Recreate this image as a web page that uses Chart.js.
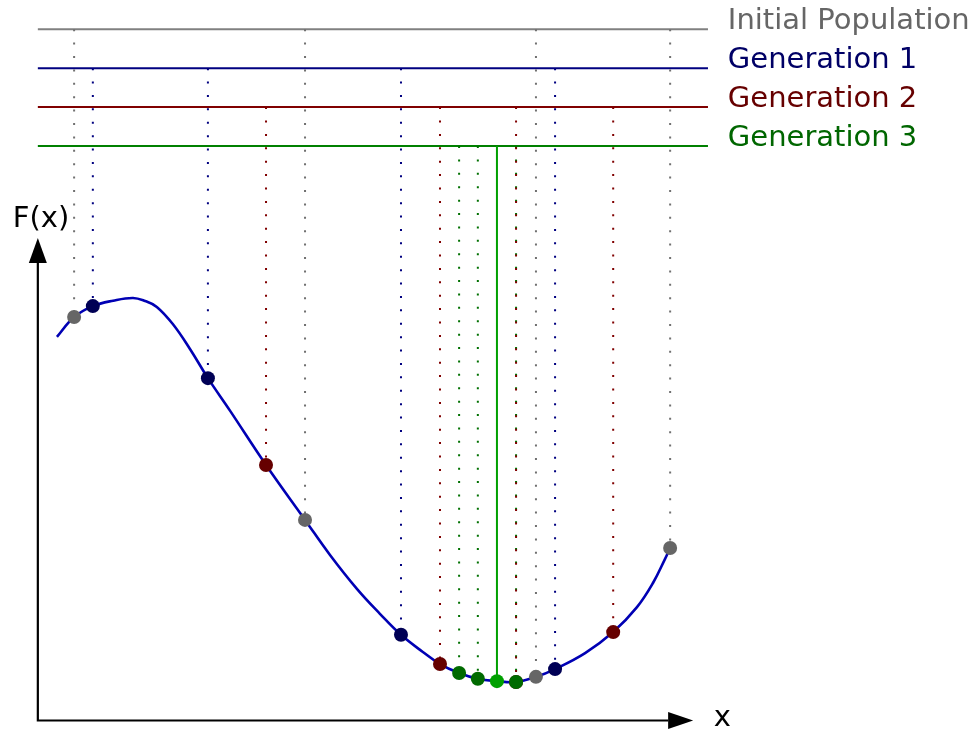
<!DOCTYPE html>
<html lang="en">
<head>
<meta charset="utf-8">
<title>Genetic algorithm – generations</title>
<script src="https://cdn.jsdelivr.net/npm/chart.js@4.4.1/dist/chart.umd.min.js"></script>
<style>
    html, body { margin: 0; padding: 0; background: #fff; }
    #wrap { width: 974px; height: 731px; }
</style>
</head>
<body>
<div id="wrap"><canvas id="gaChart" width="974" height="731"></canvas></div>
<script>
"use strict";

// Fitness curve F(x)
const curveX = [0.49, 0.93, 1.41, 1.93, 2.44, 2.75, 3.05, 3.46, 3.90, 4.36, 4.93, 5.85, 6.85, 7.49, 8.18, 8.77, 9.31, 9.87, 10.31, 10.80, 11.28, 11.77, 12.26, 12.77, 13.26, 14.03, 14.75, 15.36, 15.77, 16.08, 16.21];
const curveY = [9.85, 10.36, 10.64, 10.78, 10.85, 10.77, 10.62, 10.18, 9.54, 8.79, 7.95, 6.56, 5.15, 4.25, 3.38, 2.74, 2.20, 1.76, 1.45, 1.22, 1.07, 1.01, 0.99, 1.12, 1.32, 1.73, 2.27, 2.91, 3.53, 4.15, 4.43];

// Generations (label + level of the horizontal line)
const genLabels = ["Initial Population", "Generation 1", "Generation 2", "Generation 3"];
const genLevels = [17.75, 16.75, 15.75, 14.75];

// Individuals per generation
const initX = [0.93, 6.85, 12.77, 16.21];
const initY = [10.36, 5.15, 1.12, 4.43];
const gen1X = [1.41, 4.36, 9.31, 13.26];
const gen1Y = [10.64, 8.79, 2.20, 1.32];
const gen2X = [5.85, 10.31, 12.26, 14.75];
const gen2Y = [6.56, 1.45, 0.99, 2.27];
const gen3X = [10.80, 11.28, 11.77, 12.26];
const gen3Y = [1.22, 1.07, 1.01, 0.99];
const bestIndex = 2; // bästa individen i generation 3

const popX = [initX, gen1X, gen2X, gen3X];
const popY = [initY, gen1Y, gen2Y, gen3Y];

// Färger
const lineColors = ["#808080", "#000080", "#800000", "#008000"];
const dotColors = ["#707070", "#000080", "#800000", "#007000"];
const textColors = ["#666666", "#000066", "#660000", "#006600"];
const pointColors = ["#666666", "#000055", "#660000", "#006a00"];
const bestColor = "#00a000";
const curveColor = "#0000b4";

const FONT = "29px 'DejaVu Sans'";

/**
 * Slår ihop x- och y-listor till punktobjekt
 */
function toPoints(xs, ys) {
    return xs.map((x, i) => ({ x: x, y: ys[i] }));
}

/**
 * Prickade lodlinjer från generationslinjen ned till varje individ
 */
function dropLines(xs, ys, level, skip) {
    const pts = [];
    xs.forEach((x, i) => {
        if (i === skip) return;
        pts.push({ x: x, y: level }, { x: x, y: ys[i] }, { x: x, y: null });
    });
    return pts;
}

const datasets = [];

// Punkter (lägst order ritas överst)
for (let g = 3; g >= 0; g--) {
    const colors = popX[g].map((_, i) => (g === 3 && i === bestIndex) ? bestColor : pointColors[g]);
    datasets.push({
        data: toPoints(popX[g], popY[g]),
        showLine: false,
        radius: 7,
        pointRadius: 7,
        pointHoverRadius: 7,
        pointBorderWidth: 0,
        pointBackgroundColor: colors,
        pointBorderColor: colors,
        order: 3 - g
    });
}

// Kurvan
datasets.push({
    data: toPoints(curveX, curveY),
    showLine: true,
    borderColor: curveColor,
    borderWidth: 2.6,
    pointRadius: 0,
    tension: 0.4,
    order: 10
});

// Lodlinjer
for (let g = 0; g < 4; g++) {
    datasets.push({
        data: dropLines(popX[g], popY[g], genLevels[g], g === 3 ? bestIndex : -1),
        showLine: true,
        spanGaps: false,
        borderColor: dotColors[g],
        borderWidth: 2,
        borderDash: [2, 11.4],
        pointRadius: 0,
        order: 11 + g
    });
}

// Bästa individen: heldragen linje upp till generation 3
datasets.push({
    data: [{ x: gen3X[bestIndex], y: genLevels[3] }, { x: gen3X[bestIndex], y: gen3Y[bestIndex] }],
    showLine: true,
    borderColor: bestColor,
    borderWidth: 2,
    pointRadius: 0,
    order: 9
});

// Horisontella generationslinjer
for (let g = 0; g < 4; g++) {
    datasets.push({
        data: [{ x: 0, y: genLevels[g] }, { x: 17.18, y: genLevels[g] }],
        showLine: true,
        borderColor: lineColors[g],
        borderWidth: 2,
        pointRadius: 0,
        order: 20 + g
    });
}

// Axlar med pilar + texter
const axesPlugin = {
    id: "arrowAxes",
    beforeDatasetsDraw(chart) {
        const { ctx, scales: { x, y } } = chart;
        const x0 = x.getPixelForValue(0);
        const y0 = y.getPixelForValue(0);
        const xTip = x.getPixelForValue(16.80);
        const yTip = y.getPixelForValue(12.39);
        const head = 25;

        ctx.save();
        ctx.strokeStyle = "#000";
        ctx.fillStyle = "#000";
        ctx.lineWidth = 2.2;
        ctx.lineJoin = "miter";
        ctx.beginPath();
        ctx.moveTo(x0, yTip + head);
        ctx.lineTo(x0, y0);
        ctx.lineTo(xTip - head, y0);
        ctx.stroke();

        ctx.beginPath();
        ctx.moveTo(x0, yTip);
        ctx.lineTo(x0 - 9, yTip + head);
        ctx.lineTo(x0 + 9, yTip + head);
        ctx.closePath();
        ctx.fill();

        ctx.beginPath();
        ctx.moveTo(xTip, y0);
        ctx.lineTo(xTip - head, y0 - 8.5);
        ctx.lineTo(xTip - head, y0 + 8.5);
        ctx.closePath();
        ctx.fill();
        ctx.restore();
    },
    afterDraw(chart) {
        const { ctx, scales: { x, y } } = chart;
        ctx.save();
        ctx.font = FONT;
        ctx.textAlign = "left";
        ctx.textBaseline = "alphabetic";

        genLabels.forEach((label, g) => {
            ctx.fillStyle = textColors[g];
            ctx.fillText(label, x.getPixelForValue(17.69), y.getPixelForValue(genLevels[g]));
        });

        ctx.fillStyle = "#000";
        ctx.fillText("F(x)", x.getPixelForValue(-0.64), y.getPixelForValue(12.67));
        ctx.fillText("x", x.getPixelForValue(17.33), y.getPixelForValue(-0.14));
        ctx.restore();
    }
};

const ctx = document.getElementById("gaChart").getContext("2d");
new Chart(ctx, {
    type: "scatter",
    data: { datasets: datasets },
    options: {
        responsive: false,
        animation: false,
        devicePixelRatio: 1,
        layout: { padding: 0, autoPadding: false },
        plugins: {
            legend: { display: false },
            tooltip: { enabled: false }
        },
        scales: {
            x: { type: "linear", min: -0.97, max: 24, display: false },
            y: { type: "linear", min: -0.27, max: 18.5, display: false }
        }
    },
    plugins: [axesPlugin]
});
</script>
</body>
</html>
